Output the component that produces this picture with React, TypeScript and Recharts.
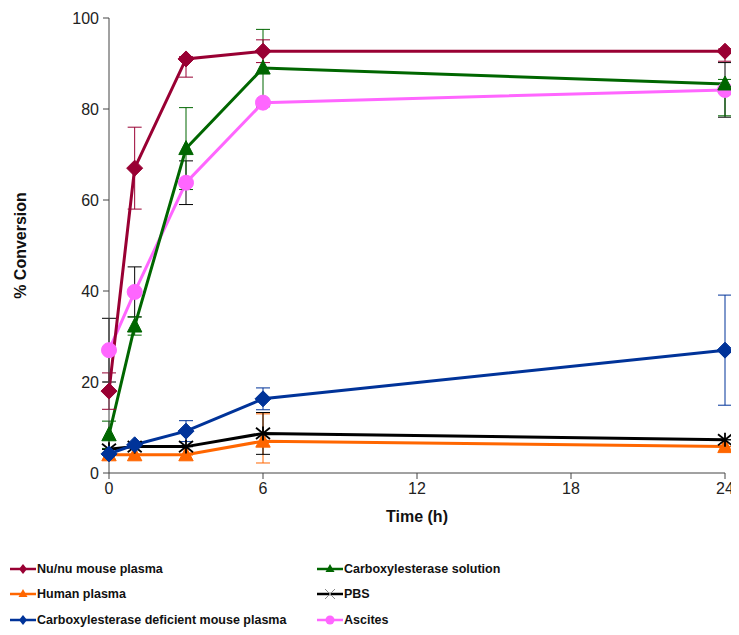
import React from 'react';
import { LineChart, Line, XAxis, YAxis, ErrorBar } from 'recharts';

const times = [0, 1, 3, 6, 24];
const xTicks = [0, 6, 12, 18, 24];
const yTicks = [0, 20, 40, 60, 80, 100];

const nuNu = [18, 67, 91, 92.7, 92.7];
const nuNuErr = [[4, 4], [9, 9], [4, 0.5], [2.5, 2.5], [2.2, 0.5]];
const carbSol = [8.4, 32.3, 71.3, 89, 85.5];
const carbSolErr = [[3, 3], [2, 2], [9, 9], [8.5, 8.5], [7, 1]];
const human = [4, 4, 4, 7, 5.8];
const humanErr = [[0, 0], [0, 0], [0, 0], [4.8, 6], [0, 0]];
const pbs = [5.2, 5.8, 5.8, 8.7, 7.3];
const pbsErr = [[0, 0], [0, 0], [0, 0], [4.6, 4.6], [0, 0]];
const deficient = [4.2, 6.2, 9.2, 16.3, 27];
const deficientErr = [[0, 0], [0, 0], [2.3, 2.3], [2.4, 2.4], [12.1, 12.1]];
const ascites = [27, 39.8, 63.8, 81.4, 84.2];
const ascitesErr = [[7, 7], [5.5, 5.5], [4.8, 4.8], [0, 0], [6, 6]];

const data = times.map((t, i) => ({
  t,
  nuNu: nuNu[i], nuNuErr: nuNuErr[i],
  carbSol: carbSol[i], carbSolErr: carbSolErr[i],
  human: human[i], humanErr: humanErr[i],
  pbs: pbs[i], pbsErr: pbsErr[i],
  deficient: deficient[i], deficientErr: deficientErr[i],
  ascites: ascites[i], ascitesErr: ascitesErr[i],
}));

const C = {
  nuNu: '#990033',
  carbSol: '#006600',
  human: '#FF6600',
  pbs: '#000000',
  deficient: '#003399',
  ascites: '#FF66FF',
};

const Diamond = (color: string, s = 8) => (props: any) => {
  const { cx, cy } = props;
  if (cx == null || cy == null) return null;
  return <polygon points={`${cx},${cy - s} ${cx + s},${cy} ${cx},${cy + s} ${cx - s},${cy}`} fill={color} stroke={color} />;
};
const Triangle = (color: string, s = 8) => (props: any) => {
  const { cx, cy } = props;
  if (cx == null || cy == null) return null;
  return <polygon points={`${cx},${cy - s} ${cx + s * 0.9},${cy + s * 0.75} ${cx - s * 0.9},${cy + s * 0.75}`} fill={color} stroke={color} />;
};
const Circle = (color: string, r = 7.5) => (props: any) => {
  const { cx, cy } = props;
  if (cx == null || cy == null) return null;
  return <circle cx={cx} cy={cy} r={r} fill={color} stroke={color} />;
};
const Star = (color: string, s = 7) => (props: any) => {
  const { cx, cy } = props;
  if (cx == null || cy == null) return null;
  return (
    <g stroke={color} strokeWidth={1.8}>
      <line x1={cx - s} y1={cy - s * 0.8} x2={cx + s} y2={cy + s * 0.8} />
      <line x1={cx - s} y1={cy + s * 0.8} x2={cx + s} y2={cy - s * 0.8} />
      <line x1={cx} y1={cy - s} x2={cx} y2={cy + s} />
    </g>
  );
};

const series = [
  { key: 'nuNu', name: 'Nu/nu mouse plasma', dot: Diamond(C.nuNu), err: 'nuNuErr', color: C.nuNu, errColor: C.nuNu, lg: 'diamond' },
  { key: 'carbSol', name: 'Carboxylesterase solution', dot: Triangle(C.carbSol), err: 'carbSolErr', color: C.carbSol, errColor: C.carbSol, lg: 'triangle' },
  { key: 'human', name: 'Human plasma', dot: Triangle(C.human), err: 'humanErr', color: C.human, errColor: C.human, lg: 'triangle' },
  { key: 'pbs', name: 'PBS', dot: Star(C.pbs), err: 'pbsErr', color: C.pbs, errColor: C.pbs, lg: 'star' },
  { key: 'deficient', name: 'Carboxylesterase deficient mouse plasma', dot: Diamond(C.deficient), err: 'deficientErr', color: C.deficient, errColor: C.deficient, lg: 'diamond' },
  { key: 'ascites', name: 'Ascites', dot: Circle(C.ascites), err: 'ascitesErr', color: C.ascites, errColor: '#000000', lg: 'circle' },
];

const drawOrder = ['ascites', 'carbSol', 'nuNu', 'human', 'pbs', 'deficient'];

const LegendMarker = ({ color, kind }: { color: string; kind: string }) => (
  <svg width={26} height={14} style={{ display: 'block' }}>
    <line x1={0} y1={7} x2={26} y2={7} stroke={color} strokeWidth={2.5} />
    {kind === 'diamond' && <polygon points="13,2 17,7 13,12 9,7" fill={color} />}
    {kind === 'triangle' && <polygon points="13,2 17.5,10 8.5,10" fill={color} />}
    {kind === 'circle' && <circle cx={13} cy={7} r={4.5} fill={color} />}
    {kind === 'star' && (
      <g stroke="#888" strokeWidth={1}>
        <line x1={8} y1={2} x2={18} y2={12} />
        <line x1={8} y1={12} x2={18} y2={2} />
      </g>
    )}
  </svg>
);

const legendRows = [
  ['nuNu', 'carbSol'],
  ['human', 'pbs'],
  ['deficient', 'ascites'],
];

export default function App() {
  const font = '"Liberation Sans", Arial, sans-serif';
  return (
    <div style={{ position: 'relative', width: 731, height: 619, fontFamily: font, background: '#fff' }}>
      <style>{'html,body{overflow:hidden;}'}</style>
      <LineChart width={731} height={619} data={data} margin={{ top: 10, right: 14, bottom: 124, left: 0 }} style={{ overflow: 'visible' }}>
        <XAxis
          dataKey="t"
          type="number"
          domain={[0, 24]}
          ticks={xTicks}
          tickSize={6}
          tickMargin={4}
          height={30}
          stroke="#444"
          interval={0}
          tick={{ fill: '#222', fontSize: 16, fontFamily: font }}
          label={{ value: 'Time (h)', position: 'bottom', offset: 8, style: { fontWeight: 'bold', fontSize: 16, fill: '#111', fontFamily: font } }}
        />
        <YAxis
          type="number"
          domain={[0, 100]}
          ticks={yTicks}
          width={101}
          tickSize={6}
          tickMargin={4}
          stroke="#444"
          tick={{ fill: '#222', fontSize: 16, fontFamily: font }}
          label={{
            content: (p: any) => {
              const vb = p.viewBox || {};
              const cx = 12;
              const cy = vb.y + vb.height / 2;
              return (
                <text x={cx} y={cy} transform={`rotate(-90 ${cx} ${cy})`} textAnchor="middle" dominantBaseline="central"
                  style={{ fontWeight: 'bold', fontSize: 16, fill: '#111', fontFamily: font }}>% Conversion</text>
              );
            },
          }}
        />
        {drawOrder.map((k) => {
          const s = series.find((x) => x.key === k)!;
          return (
            <Line
              key={s.key}
              dataKey={s.key}
              name={s.name}
              stroke={s.color}
              strokeWidth={3}
              dot={s.dot}
              activeDot={false}
              isAnimationActive={false}
            >
              <ErrorBar dataKey={s.err} width={7} strokeWidth={1} stroke={s.errColor} direction="y" />
            </Line>
          );
        })}
      </LineChart>
      <div style={{ position: 'absolute', left: 2, top: 548, width: 729, height: 71, overflow: 'hidden' }}>
        {legendRows.map((row, ri) => (
          <div key={ri} style={{ display: 'flex', height: 25.5, alignItems: 'center' }}>
            {row.map((k, ci) => {
              const s = series.find((x) => x.key === k)!;
              return (
                <div key={k} style={{ display: 'flex', alignItems: 'center', width: ci === 0 ? 307 : 400 }}>
                  <LegendMarker color={s.color} kind={s.lg} />
                  <span style={{ fontWeight: 'bold', fontSize: 12.5, color: '#111', marginLeft: 1, whiteSpace: 'nowrap' }}>{s.name}</span>
                </div>
              );
            })}
          </div>
        ))}
      </div>
    </div>
  );
}
